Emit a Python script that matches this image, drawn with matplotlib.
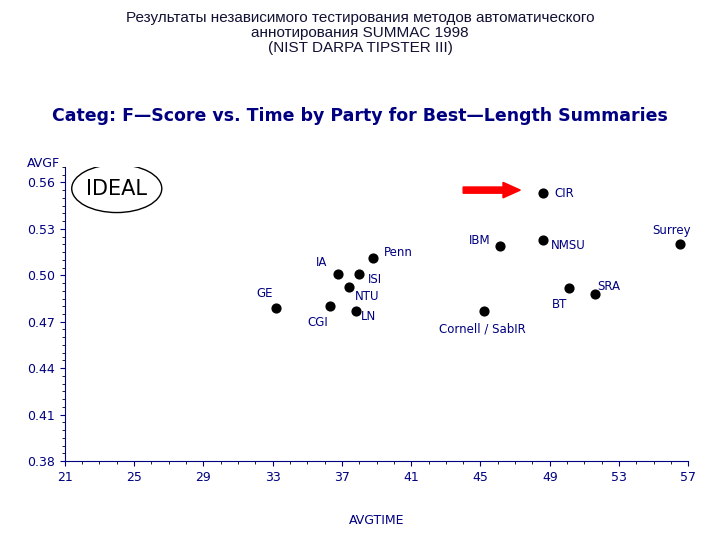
import matplotlib.pyplot as plt
from matplotlib.patches import Ellipse, FancyArrow

names = ['GE', 'IA', 'Penn', 'ISI', 'NTU', 'CGI', 'LN', 'Cornell / SabIR',
         'IBM', 'CIR', 'NMSU', 'BT', 'SRA', 'Surrey']
avgtime = [33.2, 36.8, 38.8, 38.0, 37.4, 36.3, 37.8, 45.2,
           46.1, 48.6, 48.6, 50.1, 51.6, 56.5]
avgf = [0.479, 0.501, 0.511, 0.501, 0.4925, 0.480, 0.477, 0.477,
        0.519, 0.553, 0.523, 0.492, 0.488, 0.520]
# label offsets in points
offs = [(-14, 10), (-16, 8), (8, 4), (6, -4), (4, -7), (-16, -12), (4, -4), (-32, -13),
        (-22, 4), (8, 0), (6, -4), (-12, -12), (2, 5), (-20, 10)]

fig = plt.figure(figsize=(7.2, 5.4), dpi=100)
fig.text(0.5, 0.98, 'Результаты независимого тестирования методов автоматического\n'
         'аннотирования SUMMAC 1998\n(NIST DARPA TIPSTER III)',
         ha='center', va='top', fontsize=11, family='Liberation Sans', linespacing=1.1,
         color='#111133')
fig.text(0.5, 0.785, 'Categ: F\u2014Score vs. Time by Party for Best\u2014Length Summaries',
         ha='center', va='center', fontsize=12.5, color='#000080', fontweight='bold')

ax = fig.add_axes([0.09, 0.146, 0.866, 0.545])
ax.scatter(avgtime, avgf, s=40, color='black', zorder=3)
for n, x, y, o in zip(names, avgtime, avgf, offs):
    ax.annotate(n, (x, y), xytext=o, textcoords='offset points', fontsize=8.5,
                color='#000080', va='center')

ax.set_xlim(21, 57)
ax.set_ylim(0.38, 0.57)
ax.set_xticks(range(21, 58, 4))
ax.set_xticks(range(21, 58), minor=True)
ax.set_yticks([0.38, 0.41, 0.44, 0.47, 0.50, 0.53, 0.56])
ax.set_yticks([0.38 + 0.005 * i for i in range(39)], minor=True)
ax.set_yticklabels(['0.38', '0.41', '0.44', '0.47', '0.50', '0.53', '0.56'])
ax.tick_params(colors='#000080', labelsize=9)
for s in ['top', 'right']:
    ax.spines[s].set_visible(False)
for s in ['left', 'bottom']:
    ax.spines[s].set_color('#000080')
ax.set_xlabel('AVGTIME', color='#000080', fontsize=9, labelpad=22)
ax.text(-0.06, 1.0, 'AVGF', transform=ax.transAxes, color='#000080', fontsize=9)

ax.add_patch(Ellipse((24.0, 0.556), 5.2, 0.031, fill=False, color='black', lw=1))
ax.text(24.0, 0.556, 'IDEAL', ha='center', va='center', fontsize=15)
ax.add_patch(FancyArrow(44.0, 0.555, 3.3, 0, width=0.004, head_width=0.01,
                        head_length=1.0, color='red', length_includes_head=True))

fig.savefig('out.png', dpi=100)
